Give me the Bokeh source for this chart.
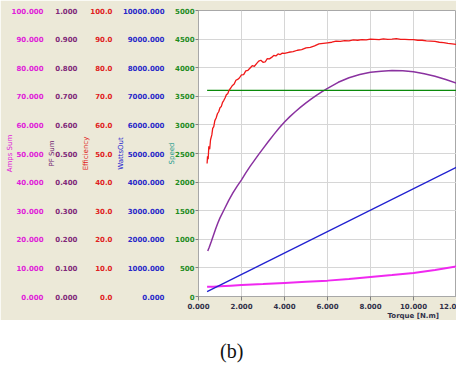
from bokeh.plotting import figure
from bokeh.models import Range1d, LinearAxis, FixedTicker, PrintfTickFormatter, Title, Div
from bokeh.layouts import column
from bokeh.embed import file_html
from bokeh.resources import INLINE

# ---------------- data ----------------
torque_ticks = [0, 2, 4, 6, 8, 10, 12]
speed_ticks = [0, 500, 1000, 1500, 2000, 2500, 3000, 3500, 4000, 4500, 5000]
amps_ticks = [0, 10, 20, 30, 40, 50, 60, 70, 80, 90, 100]
pf_ticks = [0.0, 0.1, 0.2, 0.3, 0.4, 0.5, 0.6, 0.7, 0.8, 0.9, 1.0]
eff_ticks = [0, 10, 20, 30, 40, 50, 60, 70, 80, 90, 100]
watts_ticks = [0, 1000, 2000, 3000, 4000, 5000, 6000, 7000, 8000, 9000, 10000]

eff_torque = [0.40, 0.42, 0.45, 0.48, 0.52, 0.56, 0.62, 0.66, 0.71, 0.76, 0.82, 0.88,
              0.94, 1.00, 1.06, 1.12, 1.18, 1.24, 1.30, 1.36, 1.42, 1.50, 1.58, 1.66,
              1.74, 1.82, 1.90, 2.00, 2.10, 2.20, 2.30, 2.40, 2.50, 2.60, 2.70, 2.80,
              2.90, 3.00, 3.10, 3.20, 3.30, 3.40, 3.50, 3.60, 3.70, 3.80, 3.90, 4.00,
              4.20, 4.40, 4.60, 4.80, 5.00, 5.20, 5.40, 5.60, 5.80, 6.00, 6.20, 6.40,
              6.60, 6.80, 7.00, 7.20, 7.40, 7.60, 7.80, 8.00, 8.20, 8.40, 8.60, 8.80,
              9.00, 9.20, 9.40, 9.60, 9.80, 10.00, 10.20, 10.40, 10.60, 10.80, 11.00,
              11.20, 11.40, 11.60, 11.80, 12.00]
efficiency = [46.5, 49.0, 48.0, 52.5, 51.5, 54.8, 56.5, 58.8, 59.4, 61.5, 62.4, 63.9,
              64.6, 66.0, 66.4, 67.9, 68.6, 69.5, 70.6, 70.9, 72.1, 72.9, 73.8, 74.3,
              75.6, 75.9, 76.4, 77.5, 77.6, 78.9, 79.1, 79.9, 80.7, 80.5, 81.4, 82.3,
              82.6, 81.9, 82.0, 83.2, 83.1, 83.6, 84.3, 84.1, 84.8, 84.6, 85.1, 85.0,
              85.4, 85.6, 86.1, 86.3, 86.9, 87.1, 87.6, 88.3, 88.5, 88.7, 88.9, 89.3,
              89.2, 89.5, 89.4, 89.7, 89.6, 89.8, 89.7, 90.0, 89.9, 89.8, 90.1, 89.9,
              90.0, 90.2, 89.9, 89.9, 89.8, 89.8, 89.6, 89.6, 89.4, 89.3, 89.2,
              88.9, 88.8, 88.5, 88.3, 88.1]

pf_torque = [0.43, 0.50, 0.60, 0.70, 0.80, 0.90, 1.00, 1.20, 1.40, 1.60, 1.80, 2.00,
             2.20, 2.40, 2.60, 2.80, 3.00, 3.25, 3.50, 3.75, 4.00, 4.25, 4.50, 4.75,
             5.00, 5.25, 5.50, 5.75, 6.00, 6.50, 7.00, 7.50, 8.00, 8.50, 9.00, 9.50,
             10.00, 10.50, 11.00, 11.50, 12.00]
pf_sum = [0.159, 0.172, 0.193, 0.215, 0.237, 0.257, 0.275, 0.305, 0.335, 0.362, 0.386,
          0.408, 0.432, 0.455, 0.476, 0.497, 0.517, 0.542, 0.566, 0.589, 0.610, 0.629,
          0.646, 0.662, 0.677, 0.691, 0.704, 0.716, 0.728, 0.749, 0.765, 0.776, 0.784,
          0.788, 0.790, 0.789, 0.786, 0.779, 0.770, 0.759, 0.746]

watts_torque = [0.40, 12.00]
watts_out = [171, 4520]

speed_torque = [0.40, 12.00]
speed = [3605, 3605]

amps_torque = [0.40, 0.70, 1.00, 1.50, 2.00, 3.00, 4.00, 5.00, 6.00, 7.00, 8.00, 9.00,
               10.00, 11.00, 12.00]
amps_sum = [3.4, 3.45, 3.6, 3.8, 4.0, 4.35, 4.75, 5.15, 5.55, 6.15, 6.85, 7.5, 8.25,
            9.3, 10.5]

# ---------------- figure ----------------
BEIGE = "#ECE9D8"
FONT = "DejaVu Sans"
FS = "7px"

p = figure(width=456, height=320, output_backend="svg", toolbar_location=None,
           x_range=Range1d(0, 12.0), y_range=Range1d(0, 5000),
           min_border_left=198, min_border_right=0, min_border_top=10,
           min_border_bottom=24, background_fill_color="white",
           border_fill_color=BEIGE, outline_line_color="#A8A8A8")

p.extra_y_ranges = {"watts": Range1d(0, 10000), "eff": Range1d(0, 100),
                    "pf": Range1d(0, 1), "amps": Range1d(0, 100)}

p.xgrid.ticker = FixedTicker(ticks=torque_ticks)
p.ygrid.ticker = FixedTicker(ticks=speed_ticks)
p.grid.grid_line_color = "#D6D6D6"

# x axis
xa = p.xaxis[0]
xa.ticker = FixedTicker(ticks=torque_ticks)
xa.formatter = PrintfTickFormatter(format="%.3f")
xa.major_label_overrides = {12: "12.0"}
xa.major_label_text_font = FONT
xa.major_label_text_font_size = FS
xa.major_label_text_font_style = "bold"
xa.major_label_text_color = "#303048"
xa.axis_line_color = "#A8A8A8"
xa.major_tick_line_color = "#808080"
xa.major_tick_out = 4
xa.major_tick_in = 0
xa.minor_tick_line_color = None
xa.major_label_standoff = 2

p.add_layout(Title(text="Torque [N.m]", align="left", offset=189, standoff=-3,
                   text_font=FONT, text_font_size=FS, text_font_style="bold",
                   text_color="#303048"), "below")


def style_axis(ax, ticks, fmt, color, title, title_color, tick_out, standoff, lab_standoff):
    ax.ticker = FixedTicker(ticks=ticks)
    ax.formatter = PrintfTickFormatter(format=fmt)
    ax.major_label_text_font = FONT
    ax.major_label_text_font_size = FS
    ax.major_label_text_font_style = "bold"
    ax.major_label_text_color = color
    ax.axis_label = title
    ax.axis_label_text_font = FONT
    ax.axis_label_text_font_size = FS
    ax.axis_label_text_font_style = "normal"
    ax.axis_label_text_color = title_color
    ax.axis_label_standoff = lab_standoff
    ax.minor_tick_line_color = None
    ax.major_tick_in = 0
    ax.major_tick_out = tick_out
    ax.major_label_standoff = standoff
    if tick_out == 0:
        ax.major_tick_line_color = None
        ax.axis_line_color = None
    else:
        ax.major_tick_line_color = "#808080"
        ax.axis_line_color = "#A8A8A8"


sa = p.yaxis[0]
style_axis(sa, speed_ticks, "%d", "#1E8C1E", "Speed", "#1E9A8C", 3, 1, -4)

wa = LinearAxis(y_range_name="watts")
style_axis(wa, watts_ticks, "%.3f", "#2828C8", "WattsOut", "#2020D0", 0, 1, -5)
p.add_layout(wa, "left")

ea = LinearAxis(y_range_name="eff")
style_axis(ea, eff_ticks, "%.1f", "#E02020", "Efficiency", "#E01818", 0, 1, -3)
p.add_layout(ea, "left")

pa = LinearAxis(y_range_name="pf")
style_axis(pa, pf_ticks, "%.3f", "#802878", "PF Sum", "#702070", 0, 2, -4)
p.add_layout(pa, "left")

aa = LinearAxis(y_range_name="amps")
style_axis(aa, amps_ticks, "%.3f", "#E020D8", "Amps Sum", "#E020D8", 0, 2, -5)
p.add_layout(aa, "left")

# curves
p.line(amps_torque, amps_sum, y_range_name="amps", line_color="#F028F0", line_width=2)
p.line(watts_torque, watts_out, y_range_name="watts", line_color="#2020D0", line_width=1.3)
p.line(pf_torque, pf_sum, y_range_name="pf", line_color="#8A32A0", line_width=1.5)
p.line(speed_torque, speed, line_color="#0A8A0A", line_width=1.2)
p.line(eff_torque, efficiency, y_range_name="eff", line_color="#F01818", line_width=1.3)

cap = Div(text="(b)", width=456, height=47, margin=(0, 0, 0, 0),
          styles={"font-family": "Liberation Serif", "font-size": "20px",
                  "line-height": "1", "padding-left": "220px", "padding-top": "21px",
                  "background-color": "white", "box-sizing": "border-box",
                  "color": "#111111"})

layout = column(p, cap, spacing=0)
open("out.html", "w").write(file_html(layout, INLINE))
